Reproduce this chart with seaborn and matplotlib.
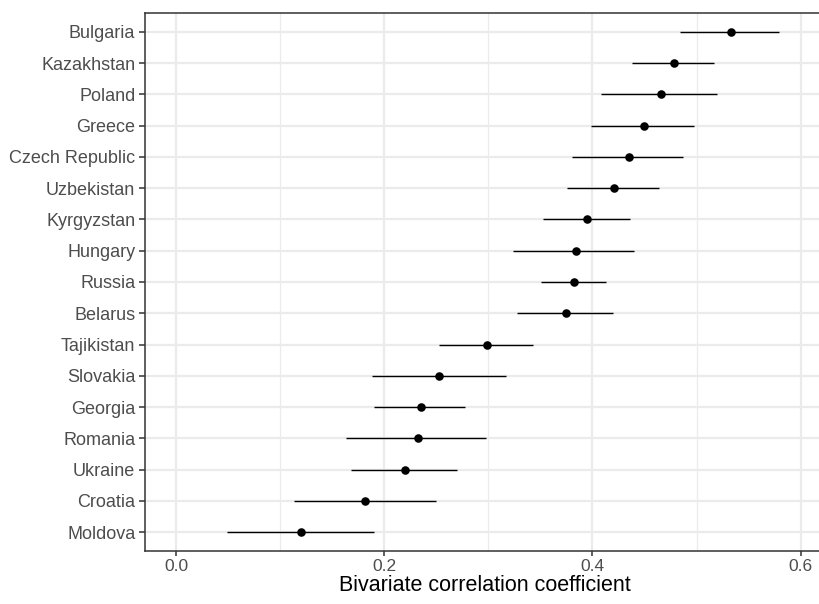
import matplotlib
matplotlib.use("Agg")
import matplotlib.pyplot as plt
from matplotlib.ticker import MultipleLocator
import seaborn as sns
import pandas as pd
import numpy as np

countries = ["Bulgaria", "Kazakhstan", "Poland", "Greece", "Czech Republic", "Uzbekistan",
             "Kyrgyzstan", "Hungary", "Russia", "Belarus", "Tajikistan", "Slovakia",
             "Georgia", "Romania", "Ukraine", "Croatia", "Moldova"]
estimate = [0.533, 0.478, 0.466, 0.450, 0.435, 0.421, 0.395, 0.384, 0.382, 0.375,
            0.299, 0.253, 0.235, 0.232, 0.220, 0.182, 0.120]
ci_low = [0.484, 0.438, 0.408, 0.399, 0.380, 0.376, 0.353, 0.324, 0.351, 0.328,
          0.253, 0.188, 0.190, 0.163, 0.168, 0.113, 0.049]
ci_high = [0.579, 0.517, 0.520, 0.498, 0.487, 0.464, 0.436, 0.440, 0.413, 0.420,
           0.343, 0.317, 0.278, 0.298, 0.270, 0.250, 0.190]
x_ticks = [0.0, 0.2, 0.4, 0.6]
x_label = "Bivariate correlation coefficient"

df = pd.DataFrame({"country": countries, "estimate": estimate,
                   "low": ci_low, "high": ci_high})
df["pos"] = np.arange(len(df))

sns.set_theme(style="white")
plt.rcParams["font.family"] = ["Liberation Sans", "DejaVu Sans"]

W, H = 820, 604
fig = plt.figure(figsize=(W / 100, H / 100), dpi=100)
left, right, top, bottom = 145, 825, 13, 551
ax = fig.add_axes([left / W, 1 - bottom / H, (right - left) / W, (bottom - top) / H])

x0 = -0.0298
x1 = x0 + (right - left) / 1041.0
ax.set_xlim(x0, x1)
n = len(df)
ax.set_ylim(n - 1 + 0.6, -0.6)

# grid
ax.xaxis.set_major_locator(MultipleLocator(0.2))
ax.xaxis.set_minor_locator(MultipleLocator(0.1))
ax.set_yticks(df["pos"])
ax.set_yticklabels(df["country"])
ax.grid(True, which="major", axis="both", color="#EBEBEB", linewidth=1.6, zorder=0)
ax.grid(True, which="minor", axis="x", color="#EBEBEB", linewidth=0.9, zorder=0)
ax.set_axisbelow(True)

ax.hlines(df["pos"], df["low"], df["high"], color="black", linewidth=1.0, zorder=2)
sns.scatterplot(data=df, x="estimate", y="pos", ax=ax, color="black", s=38,
                edgecolor="black", linewidth=0, zorder=3, legend=False)

ax.set_xticks(x_ticks)
ax.set_xticklabels([f"{v:.1f}" for v in x_ticks])

for s in ax.spines.values():
    s.set_color("#333333")
    s.set_linewidth(1.1)

ax.tick_params(axis="both", which="major", length=4, width=1.1, color="#333333",
               labelcolor="#4D4D4D", labelsize=13, pad=3, bottom=True, left=True)
ax.tick_params(axis="x", which="major", labelsize=12.5, length=3.5, pad=2.5)
ax.tick_params(axis="x", which="minor", length=0)
ax.set_xlabel(x_label, fontsize=15.5, color="black", labelpad=0.5)
ax.set_ylabel("")

fig.savefig("out.png", dpi=100)
